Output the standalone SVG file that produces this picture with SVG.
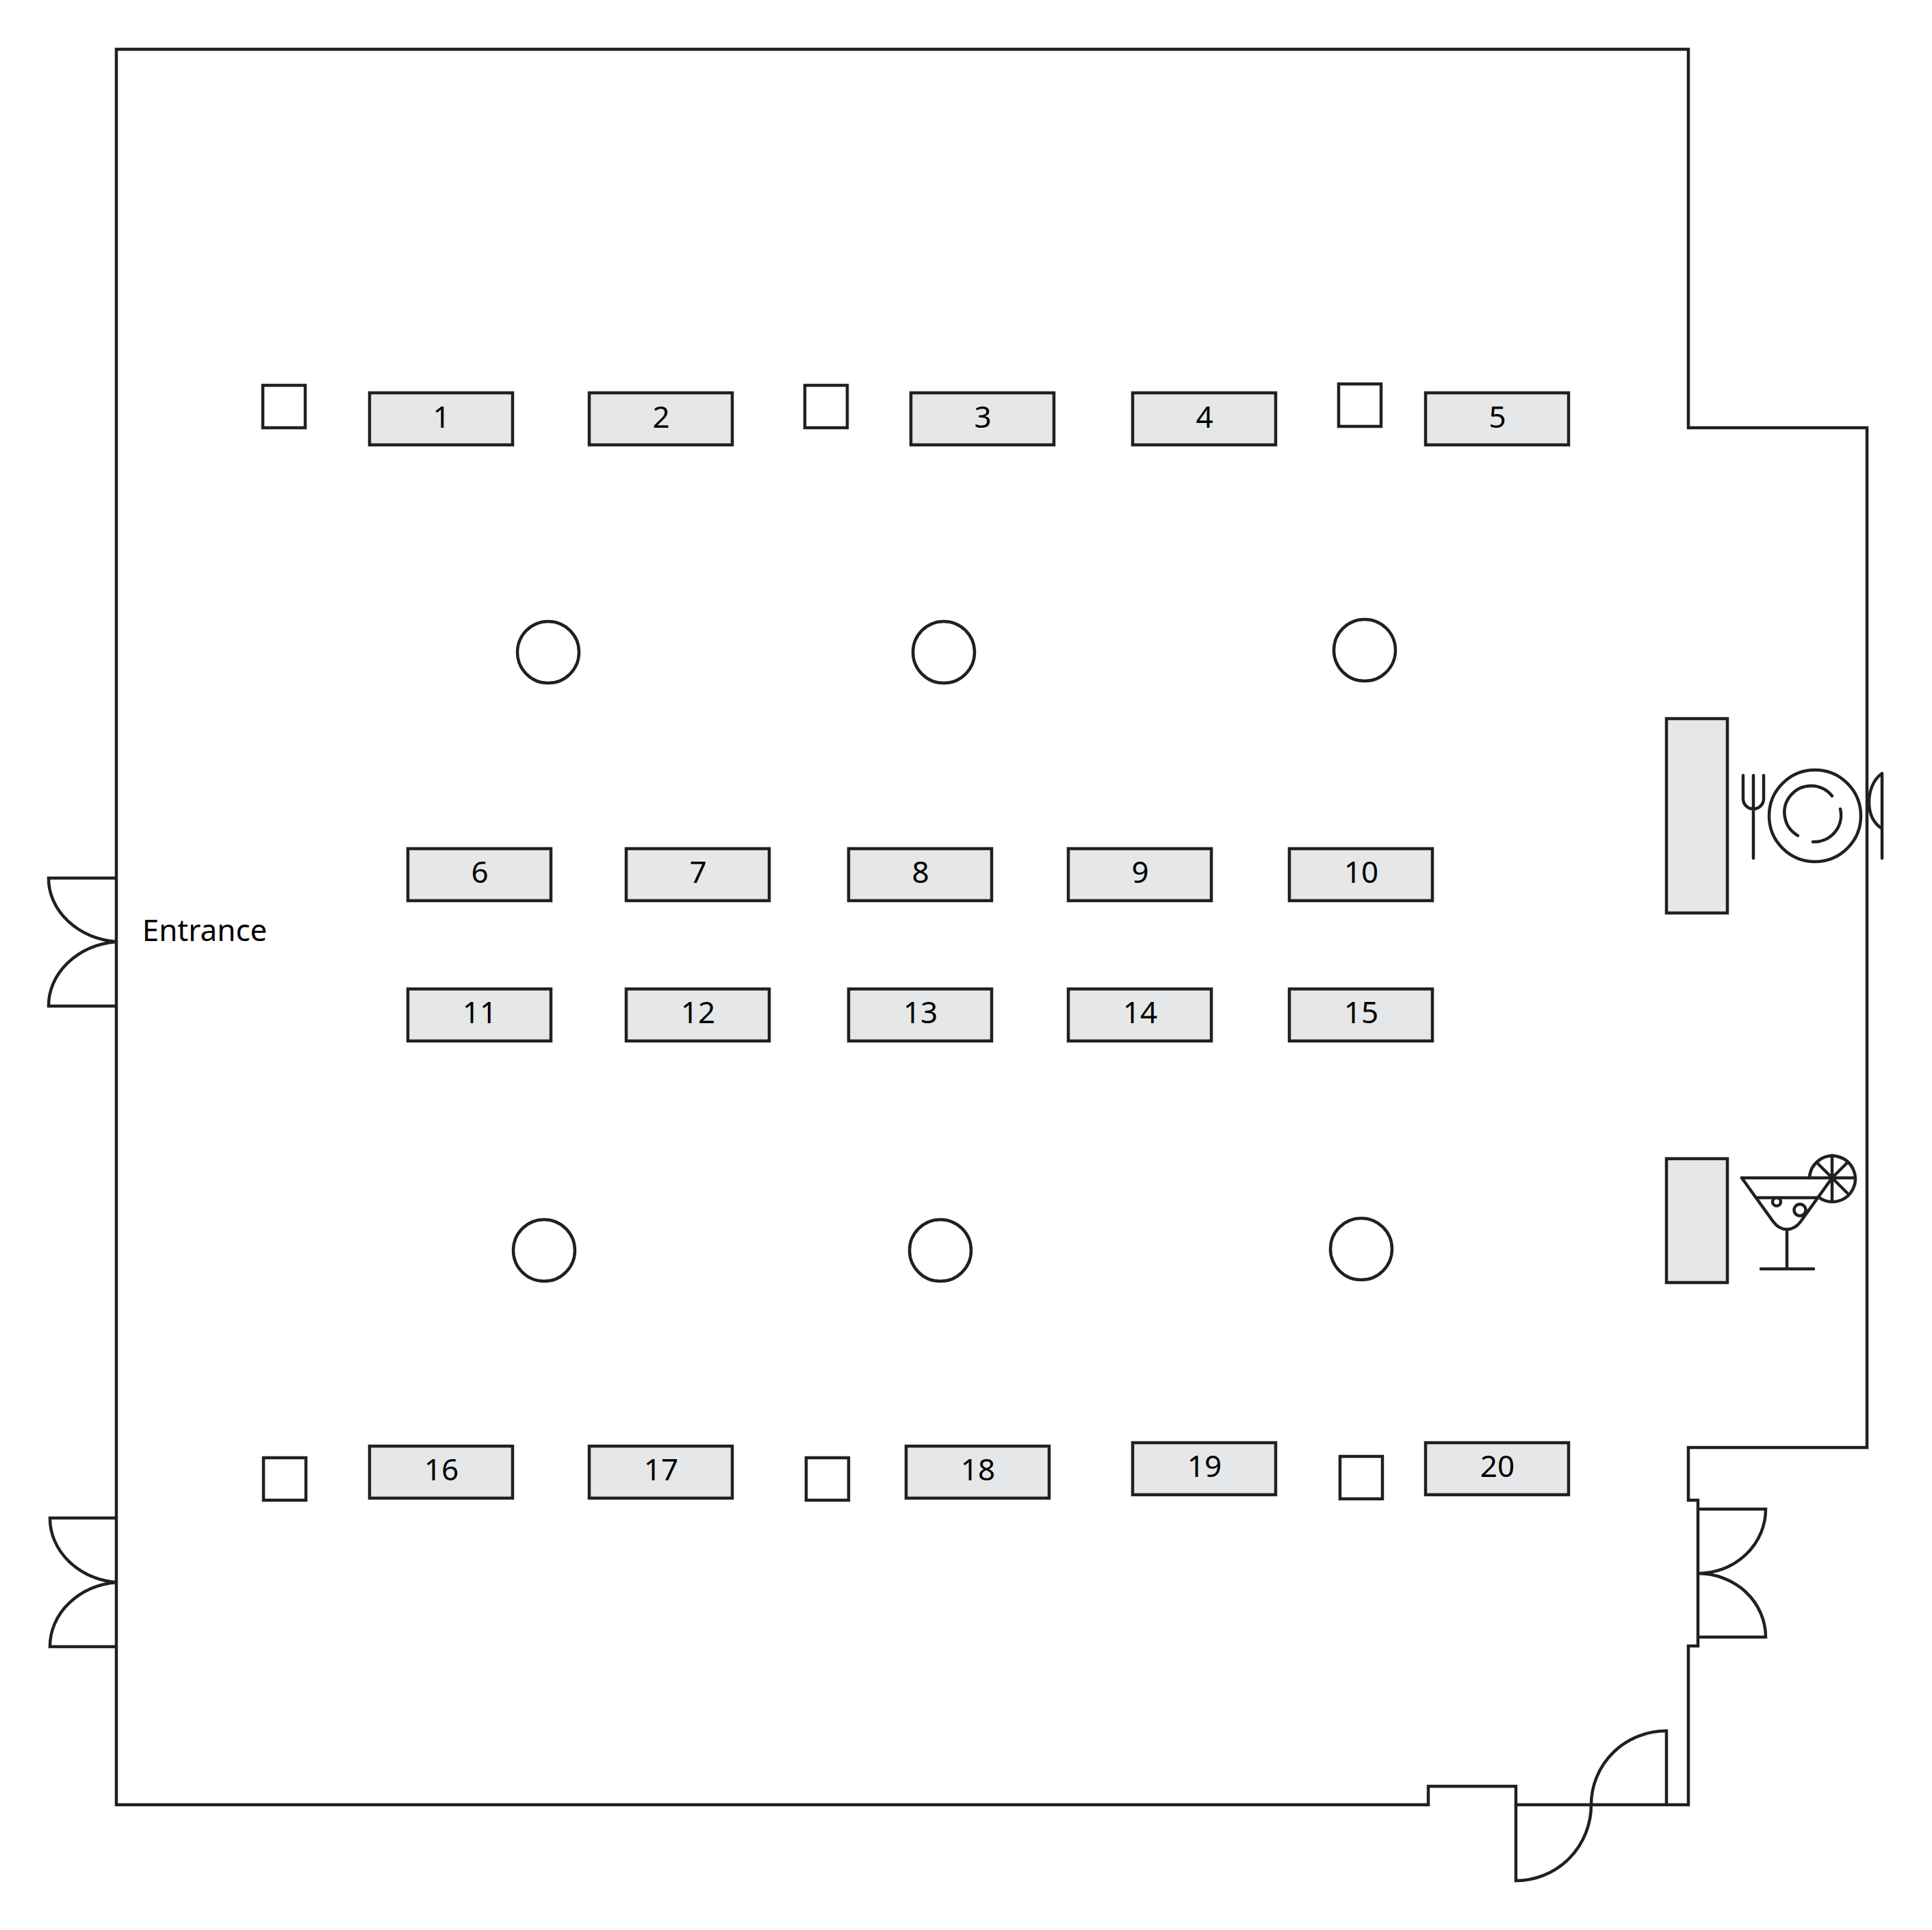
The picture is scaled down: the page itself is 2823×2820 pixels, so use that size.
<svg xmlns="http://www.w3.org/2000/svg" width="2823" height="2820" viewBox="0 0 2823 2820">
<style>
.l{fill:none;stroke:#231f20;stroke-width:4.500}
.r{fill:none;stroke:#231f20;stroke-width:4.500;stroke-linecap:round;stroke-linejoin:round}
.t{fill:#e6e7e8;stroke:#231f20;stroke-width:4.500}
.p{fill:#fff;stroke:#231f20;stroke-width:4.500}
text{font-family:"Noto Sans","Open Sans","Liberation Sans",sans-serif;font-size:44px;fill:#000;text-anchor:middle}
</style>
<rect width="2823" height="2820" fill="#fff"/>
<g id="walls">
<path class="l" d="M170 72H2467V625H2728V2115H2467V2192H2481V2405H2467V2637H2215V2610H2087V2637H170Z"/>
</g>
<g id="doors">
<path class="l" d="M170 1283H71A110 93 0 0 0 170 1376A110 94 0 0 0 71 1470H170"/>
<path class="l" d="M170 2218H73A108 94 0 0 0 170 2312A108 94 0 0 0 73 2406H170"/>
<path class="l" d="M2481 2205H2580A99 94 0 0 1 2481 2299A99 93 0 0 1 2580 2392H2481"/>
<path class="l" d="M2215 2637V2748A110 111 0 0 0 2325 2637A110 108 0 0 1 2435 2529V2637"/>
</g>
<g id="table-1"><rect class="t" x="540" y="574" width="209" height="76"/><text x="645" y="625">1</text></g>
<g id="table-2"><rect class="t" x="861" y="574" width="209" height="76"/><text x="966" y="625">2</text></g>
<g id="table-3"><rect class="t" x="1331" y="574" width="209" height="76"/><text x="1436" y="625">3</text></g>
<g id="table-4"><rect class="t" x="1655" y="574" width="209" height="76"/><text x="1760" y="625">4</text></g>
<g id="table-5"><rect class="t" x="2083" y="574" width="209" height="76"/><text x="2188" y="625">5</text></g>
<g id="table-6"><rect class="t" x="596" y="1240" width="209" height="76"/><text x="701" y="1290">6</text></g>
<g id="table-7"><rect class="t" x="915" y="1240" width="209" height="76"/><text x="1020" y="1290">7</text></g>
<g id="table-8"><rect class="t" x="1240" y="1240" width="209" height="76"/><text x="1345" y="1290">8</text></g>
<g id="table-9"><rect class="t" x="1561" y="1240" width="209" height="76"/><text x="1666" y="1290">9</text></g>
<g id="table-10"><rect class="t" x="1884" y="1240" width="209" height="76"/><text x="1989" y="1290">10</text></g>
<g id="table-11"><rect class="t" x="596" y="1445" width="209" height="76"/><text x="701" y="1495">11</text></g>
<g id="table-12"><rect class="t" x="915" y="1445" width="209" height="76"/><text x="1020" y="1495">12</text></g>
<g id="table-13"><rect class="t" x="1240" y="1445" width="209" height="76"/><text x="1345" y="1495">13</text></g>
<g id="table-14"><rect class="t" x="1561" y="1445" width="209" height="76"/><text x="1666" y="1495">14</text></g>
<g id="table-15"><rect class="t" x="1884" y="1445" width="209" height="76"/><text x="1989" y="1495">15</text></g>
<g id="table-16"><rect class="t" x="540" y="2113" width="209" height="76"/><text x="645" y="2163">16</text></g>
<g id="table-17"><rect class="t" x="861" y="2113" width="209" height="76"/><text x="966" y="2163">17</text></g>
<g id="table-18"><rect class="t" x="1324" y="2113" width="209" height="76"/><text x="1429" y="2163">18</text></g>
<g id="table-19"><rect class="t" x="1655" y="2108" width="209" height="76"/><text x="1760" y="2158">19</text></g>
<g id="table-20"><rect class="t" x="2083" y="2108" width="209" height="76"/><text x="2188" y="2158">20</text></g>
<g id="pillars-square">
<rect class="p" x="384" y="563" width="62" height="62"/>
<rect class="p" x="1176" y="563" width="62" height="62"/>
<rect class="p" x="1956" y="561" width="62" height="62"/>
<rect class="p" x="385" y="2130" width="62" height="62"/>
<rect class="p" x="1178" y="2130" width="62" height="62"/>
<rect class="p" x="1958" y="2128" width="62" height="62"/>
</g>
<g id="pillars-round">
<circle class="p" cx="801" cy="953" r="45"/>
<circle class="p" cx="1379" cy="953" r="45"/>
<circle class="p" cx="1994" cy="950" r="45"/>
<circle class="p" cx="795" cy="1827" r="45"/>
<circle class="p" cx="1374" cy="1827" r="45"/>
<circle class="p" cx="1989" cy="1825" r="45"/>
</g>
<g id="buffet-food"><rect class="t" x="2435" y="1050" width="89" height="284"/></g>
<g id="buffet-drinks"><rect class="t" x="2435" y="1693" width="89" height="181"/></g>
<g id="cutlery-icon">
<path class="r" d="M2547 1133V1167A15 15 0 0 0 2577 1167V1133M2562 1133V1254"/>
<circle class="r" cx="2652" cy="1192" r="67"/>
<path class="r" d="M2677 1163A39 39 0 1 0 2627 1221M2689 1182A39 39 0 0 1 2649 1230"/>
<path class="r" d="M2750 1254V1130C2737 1139 2731 1156 2731 1172C2731 1190 2738 1203 2750 1211"/>
</g>
<g id="cocktail-icon">
<path class="r" d="M2545 1721H2677M2568 1750H2657M2611 1797V1854M2573 1854H2650"/>
<path class="r" d="M2545 1721L2591 1785C2602 1800 2620 1800 2631 1785L2677 1721"/>
<circle class="r" cx="2596" cy="1756" r="6"/>
<circle class="r" cx="2630" cy="1768" r="8.500"/>
<path class="r" d="M2644 1721A33.500 33.500 0 1 1 2657 1749"/>
<path class="r" d="M2677 1688V1755M2677 1721H2710M2655 1699L2699 1743M2699 1699L2677 1721"/>
</g>
<g id="entrance-label"><text x="299" y="1375">Entrance</text></g>
</svg>
